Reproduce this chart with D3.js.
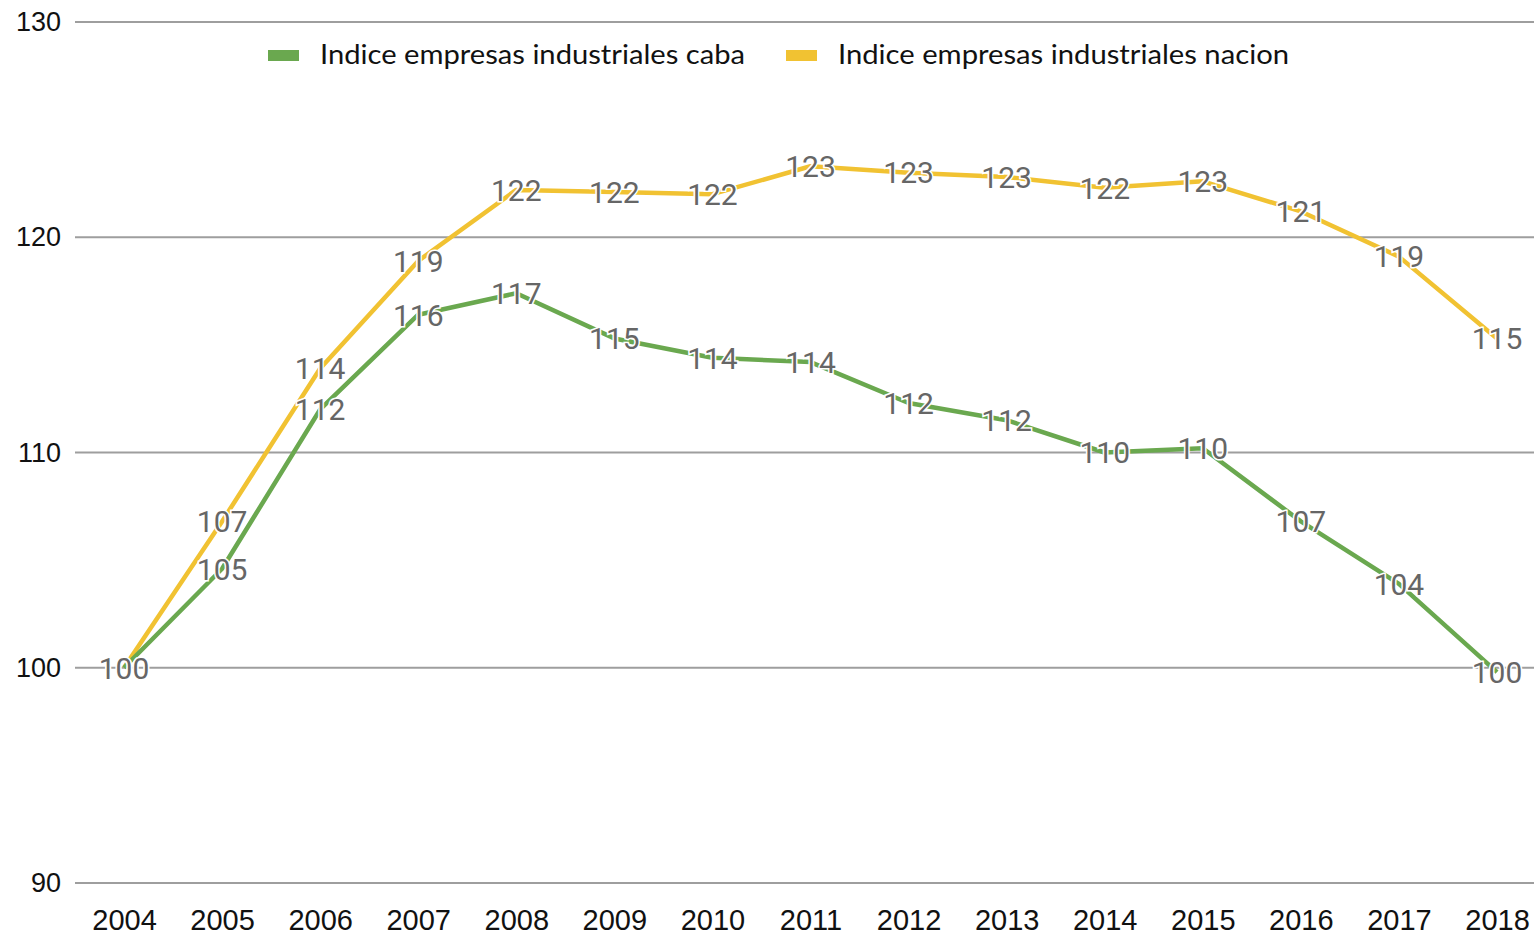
<!DOCTYPE html>
<html>
<head>
<meta charset="utf-8">
<script src="https://cdn.jsdelivr.net/npm/d3@7"></script>
<style>
  body { margin: 0; background: #fff; }
  svg { display: block; }
</style>
</head>
<body>
<svg id="chart"></svg>
<script>
var years = ["2004","2005","2006","2007","2008","2009","2010","2011","2012","2013","2014","2015","2016","2017","2018"];
var cabaValues = [100, 104.6, 112.0, 116.4, 117.4, 115.3, 114.4, 114.2, 112.3, 111.5, 110.0, 110.2, 106.8, 103.9, 99.8];
var nacionValues = [100, 106.8, 113.9, 118.9, 122.2, 122.1, 122.0, 123.3, 123.0, 122.8, 122.3, 122.6, 121.2, 119.1, 115.3];
var seriesNames = ["Indice empresas industriales caba", "Indice empresas industriales nacion"];
var yTicks = [90, 100, 110, 120, 130];

var screen = { width: 1534, height: 935 };
var colors = ["#6aa84f", "#f1c232"];

var svg = d3.select("#chart")
            .attr("width", screen.width)
            .attr("height", screen.height);

var xScale = d3.scalePoint()
               .domain(years)
               .range([124, 1497]);

var yScale = d3.scaleLinear()
               .domain([90, 130])
               .range([883, 22]);

//gridlines
svg.append("g")
   .selectAll("line")
   .data(yTicks)
   .enter()
   .append("line")
   .attr("x1", 75)
   .attr("x2", screen.width)
   .attr("y1", function(d) {return yScale(d);})
   .attr("y2", function(d) {return yScale(d);})
   .attr("stroke", "#9e9e9e")
   .attr("stroke-width", 2);

//y-axis labels
var yAxis = d3.axisLeft(yScale).tickValues(yTicks).tickSize(0).tickPadding(0);
var yG = svg.append("g")
   .attr("transform", "translate(61,0)")
   .call(yAxis);
yG.select(".domain").remove();
yG.selectAll("text")
  .attr("fill", "#111")
  .style("font-family", "'Liberation Sans', Arial, sans-serif")
  .style("font-size", "27px");

//x-axis labels
var xAxis = d3.axisBottom(xScale).tickSize(0).tickPadding(0);
var xG = svg.append("g")
   .attr("transform", "translate(0,909)")
   .call(xAxis);
xG.select(".domain").remove();
xG.selectAll("text")
  .attr("fill", "#111")
  .style("font-family", "'Liberation Sans', Arial, sans-serif")
  .style("font-size", "29px");

//lines
var series = [cabaValues, nacionValues];
var line = d3.line()
             .x(function(d,i) {return xScale(years[i]);})
             .y(function(d) {return yScale(d);});

// draw nacion first so caba sits on top like the original
[1, 0].forEach(function(s) {
  svg.append("path")
     .datum(series[s])
     .attr("d", line)
     .attr("fill", "none")
     .attr("stroke", colors[s])
     .attr("stroke-width", 4.5)
     .attr("stroke-linejoin", "round");
});

//value labels
[1, 0].forEach(function(s) {
  svg.append("g")
     .selectAll("text")
     .data(series[s])
     .enter()
     .append("text")
     .attr("x", function(d,i) {return xScale(years[i]);})
     .attr("y", function(d) {return yScale(d);})
     .attr("dy", "0.36em")
     .attr("text-anchor", "middle")
     .text(function(d) {return Math.round(d);})
     .attr("fill", "#666666")
     .attr("stroke", "#fff")
     .attr("stroke-width", 3)
     .attr("paint-order", "stroke")
     .style("font-family", "Roboto, sans-serif")
     .style("font-size", "30px");
});

//legend
var legendX = [268, 786];
var legend = svg.append("g");
var legendLines = legend.selectAll("g")
                        .data(seriesNames)
                        .enter()
                        .append("g")
                        .attr("transform", function(d,i) {return "translate(" + legendX[i] + ",0)";});

legendLines.append("rect")
           .attr("x", 0)
           .attr("y", 50)
           .attr("width", 31)
           .attr("height", 11)
           .attr("fill", function(d,i) {return colors[i];});

legendLines.append("text")
           .attr("x", 52)
           .attr("y", 64)
           .text(function(d) {return d;})
           .attr("fill", "#111")
           .attr("textLength", function(d,i) {return i == 0 ? 425 : 451;})
           .attr("lengthAdjust", "spacingAndGlyphs")
           .style("font-family", "Lato, sans-serif")
           .style("font-size", "27px");
</script>
</body>
</html>
